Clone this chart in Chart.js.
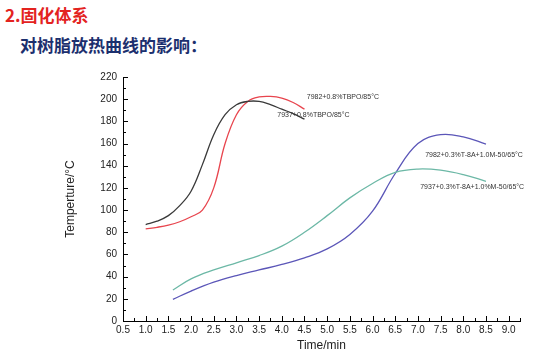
<!DOCTYPE html>
<html>
<head>
<meta charset="utf-8">
<script src="https://cdn.jsdelivr.net/npm/chart.js@4.4.1/dist/chart.umd.min.js"></script>
<style>
  html, body { margin: 0; padding: 0; background: #fff; }
  #wrap { position: relative; width: 554px; height: 353px; overflow: hidden; }
  #chart { position: absolute; left: 0; top: 0; }
  .t1 { position: absolute; left: 5px; top: 2px; font: bold 17px "Noto Sans CJK SC", sans-serif; color: #e3231f; }
  .t2 { position: absolute; left: 20px; top: 32px; font: bold 17px "Noto Sans CJK SC", sans-serif; color: #1c2f6e; }
</style>
</head>
<body>
<div id="wrap">
  <div class="t1">2.固化体系</div>
  <div class="t2">对树脂放热曲线的影响：</div>
  <canvas id="chart" width="554" height="353"></canvas>
</div>
<script>
const xTicks = [0.5, 1.0, 1.5, 2.0, 2.5, 3.0, 3.5, 4.0, 4.5, 5.0, 5.5, 6.0, 6.5, 7.0, 7.5, 8.0, 8.5, 9.0];
const yTicks = [0, 20, 40, 60, 80, 100, 120, 140, 160, 180, 200, 220];

const tbpoTime = [1.0, 1.25, 1.5, 1.75, 2.0, 2.25, 2.5, 2.75, 3.0, 3.25, 3.5, 3.75, 4.0, 4.25, 4.5];
const s7937tbpo = [87, 90, 95, 104, 117, 141, 168, 186, 195, 198, 198, 195, 191, 187, 182];
const s7982tbpo = [83, 84.5, 86.5, 89.5, 94, 100, 120, 160, 186, 198, 202, 202.5, 201, 197, 191];

const t8aTime = [1.6, 2.0, 2.5, 3.0, 3.5, 4.0, 4.5, 5.0, 5.5, 6.0, 6.5, 7.0, 7.5, 8.0, 8.5];
const s7937t8a = [28, 38, 46, 52.5, 59, 67.5, 80, 95, 111, 124, 134, 137, 136, 132, 126];
const s7982t8a = [19.5, 27, 35, 41, 46, 51, 57, 65, 78, 99, 133, 160, 168, 166, 159.5];

const seriesNames = [
    '7937+0.8%TBPO/85°C',
    '7982+0.8%TBPO/85°C',
    '7937+0.3%T-8A+1.0%M-50/65°C',
    '7982+0.3%T-8A+1.0M-50/65°C',
];
// label anchor points in data units [x, y]
const labelAnchors = [
    [3.9, 186],
    [4.55, 202],
    [7.05, 121],
    [7.16, 150],
];

const toPoints = (xs, ys) => xs.map((x, i) => ({ x, y: ys[i] }));

const lineDataset = (label, xs, ys, color) => ({
    label,
    data: toPoints(xs, ys),
    borderColor: color,
    borderWidth: 1.3,
    pointRadius: 0,
    fill: false,
    tension: 0.4,
});

const innerTicks = {
    id: 'innerTicks',
    afterDraw(chart) {
        const { ctx, scales: { x, y } } = chart;
        ctx.save();
        ctx.strokeStyle = '#000';
        ctx.lineWidth = 1;
        const bottom = y.getPixelForValue(0);
        const left = x.getPixelForValue(x.min);
        ctx.beginPath();
        for (let v = x.min; v <= x.max + 1e-6; v += 0.25) {
            const px = Math.round(x.getPixelForValue(v)) + 0.5;
            const major = Math.abs(v * 2 - Math.round(v * 2)) < 1e-6;
            ctx.moveTo(px, bottom);
            ctx.lineTo(px, bottom - (major ? 5 : 3));
        }
        for (let v = 0; v <= y.max + 1e-6; v += 10) {
            const py = Math.round(y.getPixelForValue(v)) + 0.5;
            const major = v % 20 === 0;
            ctx.moveTo(left, py);
            ctx.lineTo(left + (major ? 5 : 3), py);
        }
        ctx.stroke();
        ctx.restore();
    },
};

const seriesLabels = {
    id: 'seriesLabels',
    afterDatasetsDraw(chart) {
        const { ctx, scales: { x, y } } = chart;
        ctx.save();
        ctx.font = '7px "Liberation Sans", Arial, sans-serif';
        ctx.fillStyle = '#333';
        ctx.textBaseline = 'middle';
        seriesNames.forEach((name, i) => {
            const [ax, ay] = labelAnchors[i];
            ctx.fillText(name, x.getPixelForValue(ax), y.getPixelForValue(ay));
        });
        ctx.restore();
    },
};

const tickFont = { family: '"Liberation Sans", Arial, sans-serif', size: 10 };

new Chart(document.getElementById('chart'), {
    type: 'line',
    data: {
        datasets: [
            lineDataset(seriesNames[0], tbpoTime, s7937tbpo, '#3a3a3a'),
            lineDataset(seriesNames[1], tbpoTime, s7982tbpo, '#e8454e'),
            lineDataset(seriesNames[2], t8aTime, s7937t8a, '#6cb8a6'),
            lineDataset(seriesNames[3], t8aTime, s7982t8a, '#5b56b8'),
        ],
    },
    options: {
        responsive: false,
        animation: false,
        layout: { padding: { left: 63, top: 77, right: 34, bottom: 0 } },
        plugins: {
            legend: { display: false },
            tooltip: { enabled: false },
        },
        scales: {
            x: {
                type: 'linear',
                min: 0.5,
                max: 9.25,
                afterBuildTicks(scale) {
                    scale.ticks = xTicks.map((value) => ({ value }));
                },
                afterFit(scale) {
                    scale.height = 32;
                },
                grid: { display: false, drawTicks: false },
                border: { display: true, color: '#000', width: 1 },
                ticks: {
                    color: '#222',
                    font: tickFont,
                    padding: 3,
                    maxRotation: 0,
                    callback: (v) => Number(v).toFixed(1),
                },
                title: {
                    display: true,
                    text: 'Time/min',
                    color: '#222',
                    font: { family: '"Liberation Sans", Arial, sans-serif', size: 12 },
                    padding: { top: 3, bottom: 0 },
                },
            },
            y: {
                min: 0,
                max: 220,
                afterBuildTicks(scale) {
                    scale.ticks = yTicks.map((value) => ({ value }));
                },
                afterFit(scale) {
                    scale.width = 60;
                },
                grid: { display: false, drawTicks: false },
                border: { display: true, color: '#000', width: 1 },
                ticks: {
                    color: '#222',
                    font: tickFont,
                    padding: 6,
                },
                title: {
                    display: true,
                    text: 'Temperture/°C',
                    color: '#222',
                    font: { family: '"Liberation Sans", Arial, sans-serif', size: 12 },
                    padding: { top: 0, bottom: 10 },
                },
            },
        },
    },
    plugins: [innerTicks, seriesLabels],
});
</script>
</body>
</html>
